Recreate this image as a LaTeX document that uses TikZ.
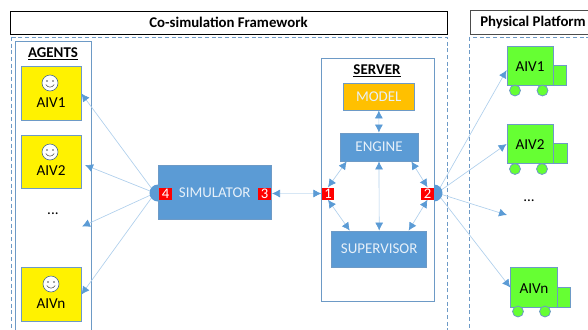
\documentclass[tikz,border=0pt]{standalone}
\usepackage{fontspec}
\setmainfont{Carlito}
\usetikzlibrary{arrows.meta}
\definecolor{bluefill}{HTML}{5B9BD5}
\definecolor{blueline}{HTML}{6D9AC6}
\definecolor{thinline}{HTML}{B0D0EC}
\definecolor{truckgreen}{HTML}{66FF33}
\definecolor{modelfill}{HTML}{FFC000}
\tikzset{
  titlebox/.style={draw=black,line width=0.6pt,fill=white,inner sep=0pt,font=\bfseries\fontsize{11.1}{12}\selectfont},
  dashframe/.style={draw=blueline,densely dashed,line width=0.6pt},
  holder/.style={draw=blueline,line width=0.6pt},
  agentbox/.style={draw=blueline,fill=yellow,line width=0.7pt,minimum width=45pt,minimum height=40pt,inner sep=0pt},
  block/.style={draw=blueline,fill=bluefill,text=white!85!bluefill,line width=0.6pt,inner sep=0pt,font=\fontsize{11.2}{12}\selectfont},
  port/.style={fill=red,text=white,inner sep=0pt,minimum width=9.5pt,minimum height=9pt,font=\fontsize{11}{10}\selectfont},
  truckpart/.style={draw=blueline,fill=truckgreen,line width=0.6pt,inner sep=0pt},
  wheel/.style={truckpart,circle,minimum size=8.2pt},
  heading/.style={font=\bfseries\fontsize{11.2}{12}\selectfont},
  plain/.style={font=\fontsize{11.4}{12}\selectfont},
  link/.style={draw=thinline,line width=0.5pt,-{Latex[length=6pt,width=6pt,color=bluefill]}},
  twolink/.style={draw=thinline,line width=0.5pt,{Latex[length=6pt,width=6pt,color=bluefill]}-{Latex[length=6pt,width=6pt,color=bluefill]}},
  smiley/.pic={
    \draw[blueline!70!black,fill=white,line width=0.45pt] (0,0) circle (6pt);
    \fill[black!70] (-3,-2) circle (0.7pt) (3,-2) circle (0.7pt);
    \draw[black!70,line width=0.4pt] (-4.2,1.5) .. controls (-2,5) and (2,5) .. (4.2,1.5);
  }
}
\begin{document}
\begin{tikzpicture}[x=0.75pt,y=-0.75pt]
  \useasboundingbox (0,0) rectangle (588,329);
  \clip (0,0) rectangle (588,329);

  % frames
  \draw[dashframe] (11,37) rectangle (447,340);
  \draw[dashframe] (469,37) rectangle (600,340);
  \node[titlebox,minimum width=327.75pt,minimum height=17.25pt] (framework) at (228.5,22.5) {Co-simulation Framework};
  \node[titlebox,minimum width=94.5pt,minimum height=18pt,draw=black!70] (platform) at (533,22) {Physical Platform};
  \draw[holder] (15.5,41) rectangle (91,340);
  \draw[holder] (321,58) rectangle (434,301);

  % agents
  \node[heading] (agents) at (53,54) {\underline{AGENTS}};
  \node[agentbox] (agent1) at (51,93.5) {};
  \node[plain] (agent1txt) at (51,103) {AIV1};
  \pic at (50,83) {smiley};
  \node[agentbox] (agent2) at (51,162) {};
  \node[plain] (agent2txt) at (51,171) {AIV2};
  \pic at (50,152) {smiley};
  \node[plain] (agentdots) at (53,214) {...};
  \node[agentbox] (agentn) at (51,294.5) {};
  \node[plain] (agentntxt) at (51,304) {AIVn};
  \pic at (51,284) {smiley};
  \coordinate (agent2in) at (85,165);
  \coordinate (dotsin) at (82,226.5);

  % simulator
  \coordinate (hubL) at (155,193);
  \coordinate (hubR) at (437,193);
  \node[block,minimum width=84.5pt,minimum height=40pt] (simulator) at (214.75,192.5) {SIMULATOR};
  \node[port] (four) at (165.5,193.5) {4};
  \node[port] (three) at (264.5,193.5) {3};

  % server
  \node[heading] (server) at (377,71) {\underline{SERVER}};
  \node[block,fill=modelfill,minimum width=53pt,minimum height=20.25pt] (model) at (378.75,96.5) {MODEL};
  \node[block,minimum width=58.5pt,minimum height=21pt] (engine) at (379,147) {ENGINE};
  \node[block,minimum width=71.25pt,minimum height=27pt] (supervisor) at (379.2,249) {SUPERVISOR};
  \node[port] (one) at (328,193.5) {1};
  \node[port] (two) at (427.5,193.5) {2};

  % trucks
  \node[truckpart,minimum width=10pt,minimum height=15pt] (cabA) at (559.5,75) {};
  \node[truckpart,minimum width=34.5pt,minimum height=29pt] (truckA) at (530,66) {};
  \node (truckAtxt) at (530,66.5) [plain] {AIV1};
  \node[wheel] (wheelAa) at (515,90.5) {};
  \node[wheel] (wheelAb) at (542.5,90.5) {};
  \node[truckpart,minimum width=10.5pt,minimum height=15pt] (cabB) at (560,153) {};
  \node[truckpart,minimum width=34.5pt,minimum height=29pt] (truckB) at (530,144) {};
  \node (truckBtxt) at (530,144.5) [plain] {AIV2};
  \node[wheel] (wheelBa) at (515,169) {};
  \node[wheel] (wheelBb) at (542,169) {};
  \node[plain] (truckdots) at (529,201) {...};
  \node[truckpart,minimum width=10pt,minimum height=15pt] (cabN) at (563.5,297) {};
  \node[truckpart,minimum width=35pt,minimum height=29.5pt] (truckN) at (534,287.5) {};
  \node (truckNtxt) at (534,288.5) [plain] {AIVn};
  \node[wheel] (wheelNa) at (518,311.5) {};
  \node[wheel] (wheelNb) at (545,311.5) {};
  \coordinate (dotsout) at (507,215);

  % connectors
  \draw[link] (hubL) -- (agent1.east);
  \draw[link] (hubL) -- (agent2in);
  \draw[link] (hubL) -- (dotsin);
  \draw[link] (hubL) -- (agentn.east);
  \coordinate (threeout) at (272,193.5);
  \draw[twolink,draw=thinline!50] (threeout) -- (one.west);
  \draw[twolink] (model) -- (engine);
  \draw[twolink] (engine.south) -- (supervisor.north);
  \draw[twolink] (one.north) -- (engine.204);
  \draw[twolink] (one.south) -- (supervisor.148);
  \draw[twolink] (two.north) -- (engine.-24);
  \draw[twolink] (two.south) -- (supervisor.32);
  \draw[link] (hubR) -- (truckA.190);
  \draw[link] (hubR) -- (truckB.west);
  \draw[link] (hubR) -- (dotsout);
  \draw[link] (hubR) -- (truckN.west);

  % hubs, over the line ends
  \fill[bluefill] (158,184.5) arc (-90:-270:8.5);
  \fill[bluefill] (434,184.5) arc (-90:90:8.5);
\end{tikzpicture}
\end{document}
